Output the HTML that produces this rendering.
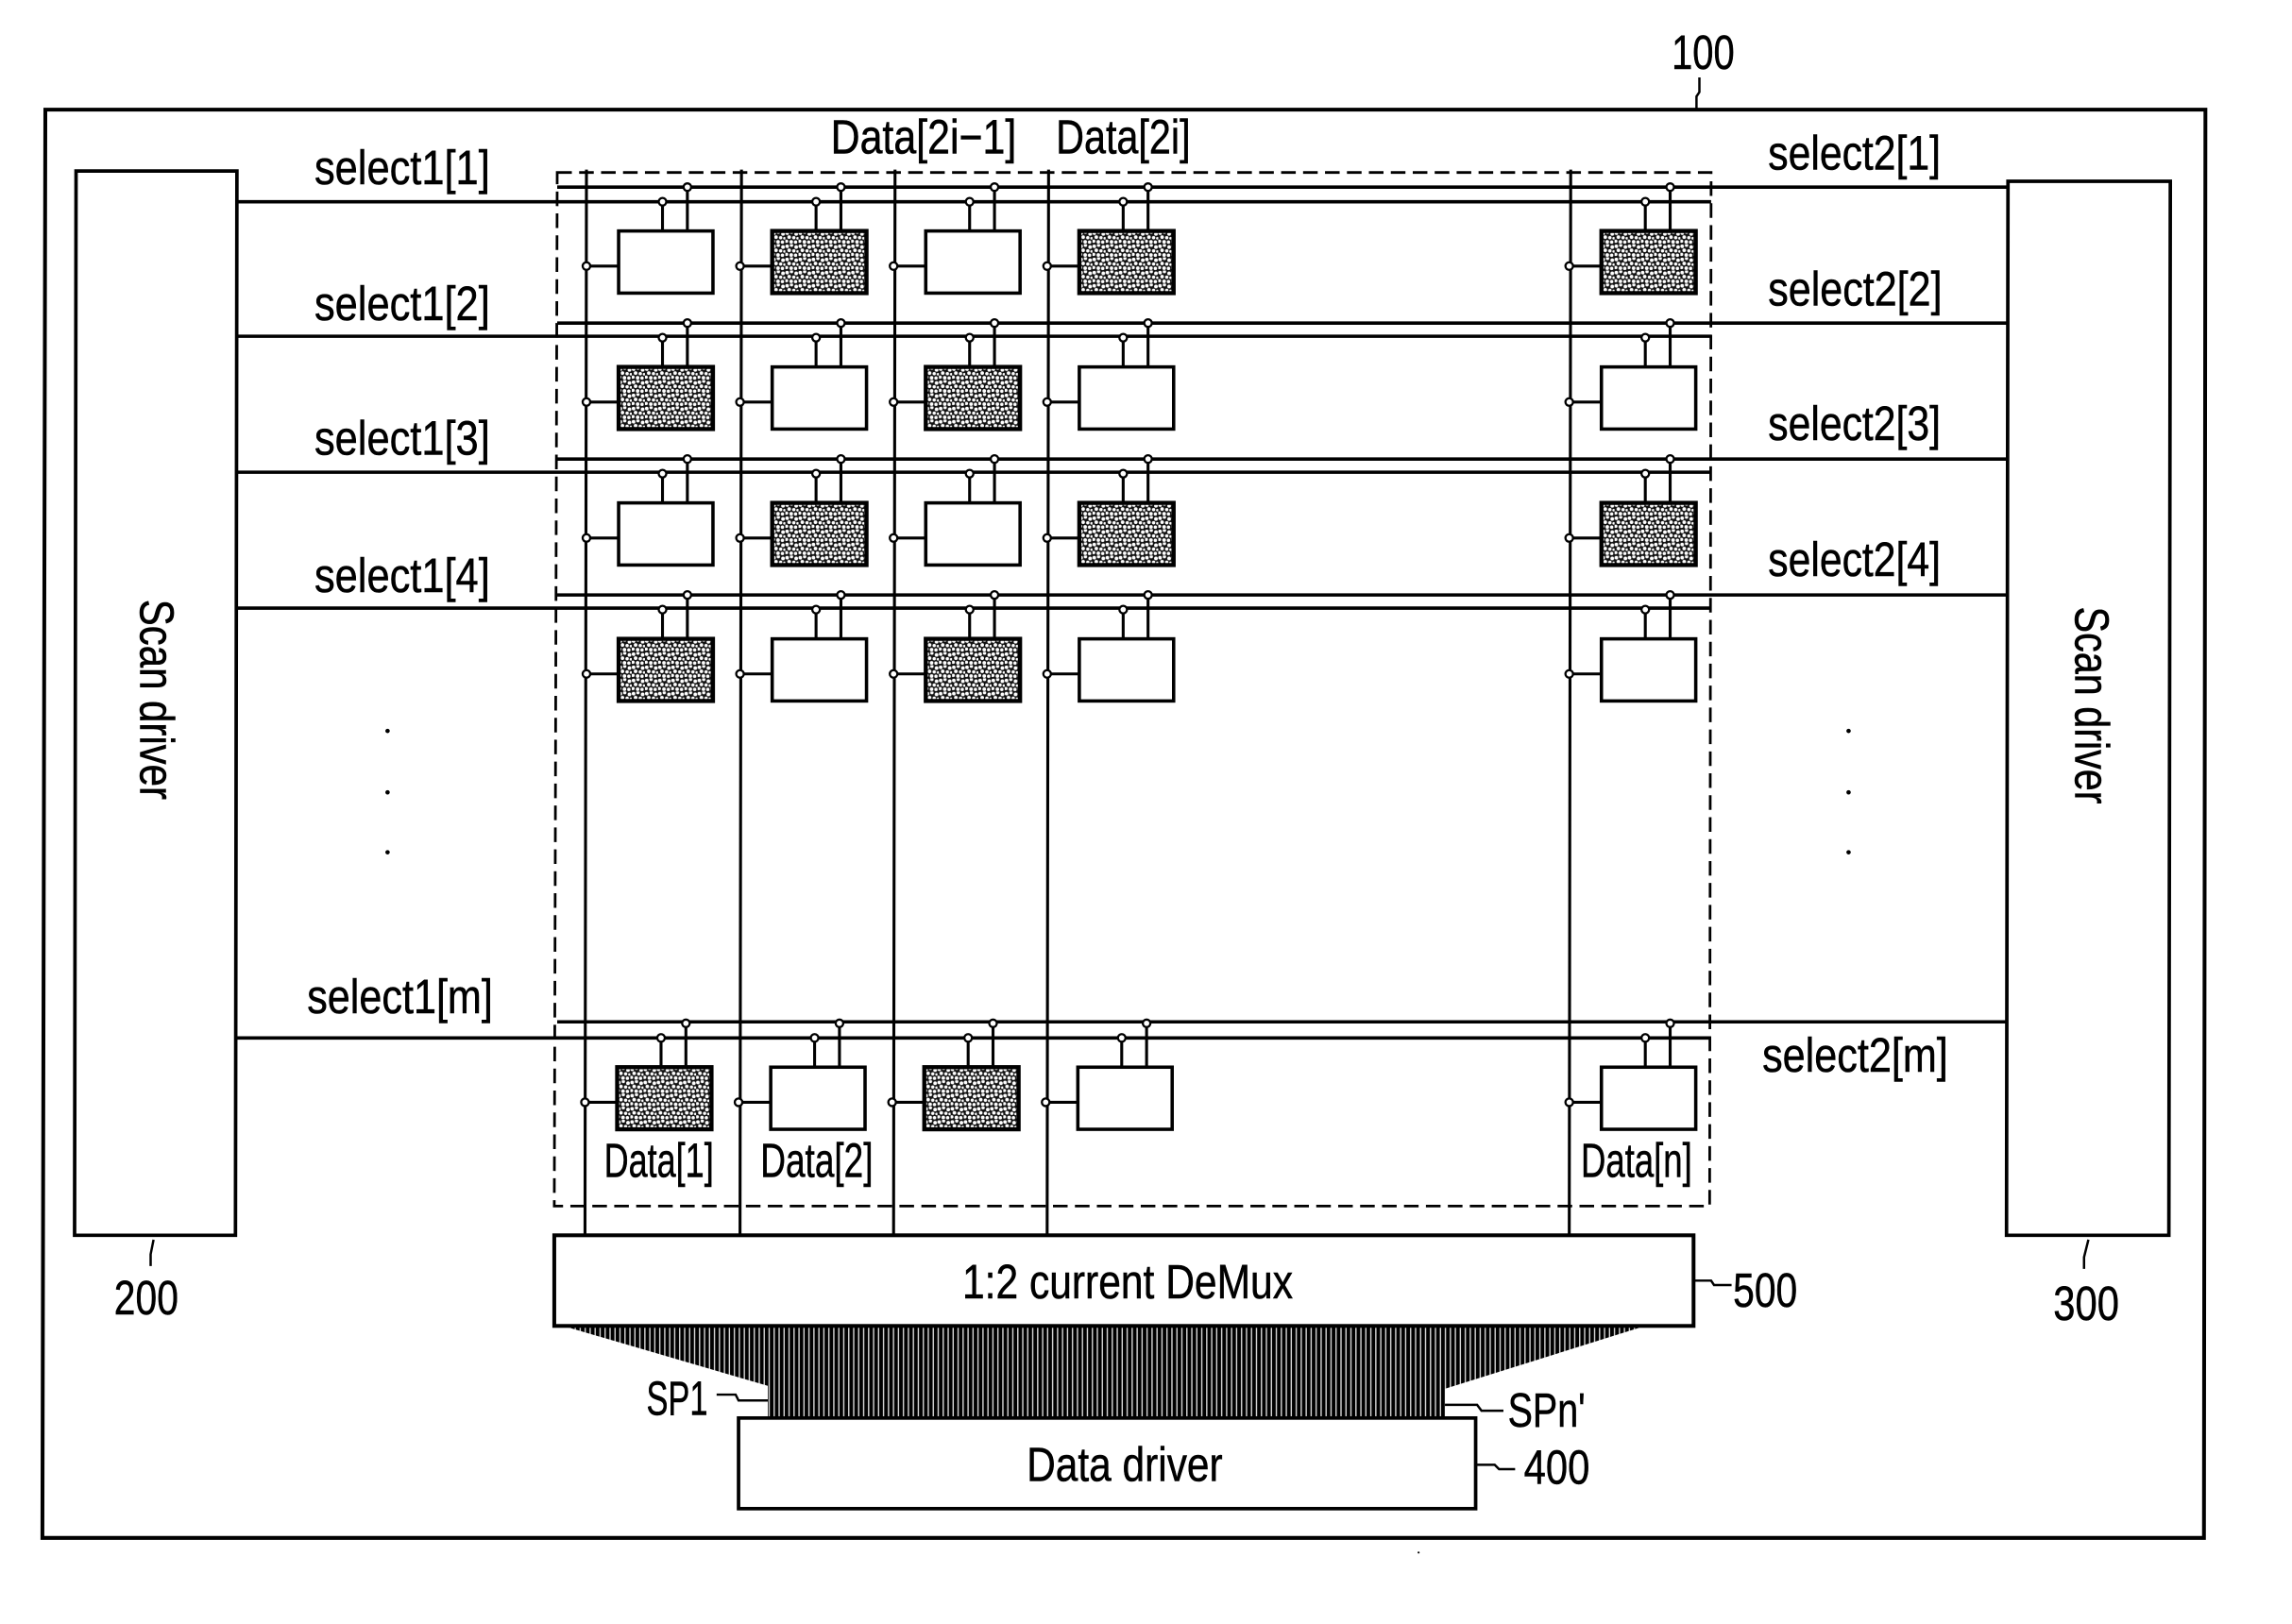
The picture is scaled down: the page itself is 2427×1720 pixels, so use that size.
<!DOCTYPE html>
<html><head><meta charset="utf-8"><style>
html,body{margin:0;padding:0;background:#fff}
svg{display:block}
text{font-family:"Liberation Sans",sans-serif;fill:#000;font-size:33px;stroke:#000;stroke-width:0.35}
.s{stroke:#000;fill:none;stroke-width:2}
</style></head><body>
<svg width="2427" height="1720" viewBox="0 0 1567.2 1110.9" preserveAspectRatio="none" xmlns="http://www.w3.org/2000/svg">
<defs>
<pattern id="sp" width="9" height="9" patternUnits="userSpaceOnUse">
<rect width="9" height="9" fill="#111"/>
<circle cx="1.2" cy="1.5" r="1.25" fill="#fff"/><circle cx="4.2" cy="0.8" r="1.15" fill="#fff"/><circle cx="7.4" cy="2" r="1.25" fill="#fff"/>
<circle cx="2.6" cy="4.2" r="1.25" fill="#fff"/><circle cx="5.8" cy="4.6" r="1.15" fill="#fff"/><circle cx="8.4" cy="5" r="0.9" fill="#fff"/>
<circle cx="0.8" cy="7" r="1.15" fill="#fff"/><circle cx="4" cy="7.4" r="1.25" fill="#fff"/><circle cx="7" cy="7.6" r="1.15" fill="#fff"/>
</pattern>
<pattern id="hatch" width="3.4" height="40" patternUnits="userSpaceOnUse">
<rect width="3.4" height="40" fill="#000"/><rect x="1.9" width="0.9" height="40" fill="#fff" opacity="0.85"/>
</pattern>
<g id="stubs">
<path class="s" d="M30 0V-20M47 0V-30M0 24H-22"/>
<circle cx="30" cy="-20" r="2.6" fill="#fff" stroke="#000" stroke-width="1.5"/>
<circle cx="47" cy="-30" r="2.6" fill="#fff" stroke="#000" stroke-width="1.5"/>
<circle cx="-22" cy="24" r="2.6" fill="#fff" stroke="#000" stroke-width="1.5"/>
</g>
<g id="w"><rect x="0" y="0" width="64.5" height="42.5" fill="#fff" stroke="#000" stroke-width="2.3"/><use href="#stubs"/></g>
<g id="d"><rect x="0" y="0" width="64.5" height="42.5" fill="url(#sp)" stroke="#000" stroke-width="2.8"/><use href="#stubs"/></g>
</defs>

<!-- outer frame -->
<path d="M31 75H1508L1507 1052H29Z" fill="none" stroke="#000" stroke-width="2.6"/>
<!-- drivers -->
<path d="M52 117H162L161 845H51Z" fill="#fff" stroke="#000" stroke-width="2.4"/>
<path d="M1373 124H1484L1483 845H1372Z" fill="#fff" stroke="#000" stroke-width="2.4"/>

<!-- dashed panel -->
<path d="M381 118H1170L1169 825H379Z" fill="none" stroke="#000" stroke-width="1.8" stroke-dasharray="10 5"/>

<!-- data lines -->
<path class="s" d="M401 116L400 846M507 116L506 846M612 116L611 846M717 116L716 846M1074 116L1073 846"/>
<!-- select1 lines -->
<path class="s" style="stroke-width:2.3" d="M162 138H1170M162 230H1170M162 323H1170M162 416H1170M161 710H1170"/>
<!-- select2 lines -->
<path class="s" style="stroke-width:2.3" d="M381 128H1373M381 221H1373M381 314H1373M381 407H1373M381 699H1372"/>

<!-- cells row 1 -->
<use href="#w" x="423" y="158"/><use href="#d" x="528" y="158"/><use href="#w" x="633" y="158"/><use href="#d" x="738" y="158"/><use href="#d" x="1095" y="158"/>
<!-- row 2 -->
<use href="#d" x="423" y="251"/><use href="#w" x="528" y="251"/><use href="#d" x="633" y="251"/><use href="#w" x="738" y="251"/><use href="#w" x="1095" y="251"/>
<!-- row 3 -->
<use href="#w" x="423" y="344"/><use href="#d" x="528" y="344"/><use href="#w" x="633" y="344"/><use href="#d" x="738" y="344"/><use href="#d" x="1095" y="344"/>
<!-- row 4 -->
<use href="#d" x="423" y="437"/><use href="#w" x="528" y="437"/><use href="#d" x="633" y="437"/><use href="#w" x="738" y="437"/><use href="#w" x="1095" y="437"/>
<!-- row m -->
<use href="#d" x="422" y="730"/><use href="#w" x="527" y="730"/><use href="#d" x="632" y="730"/><use href="#w" x="737" y="730"/><use href="#w" x="1095" y="730"/>

<!-- bundle -->
<path d="M385 907H1125L988 950V970H525V948Z" fill="url(#hatch)"/>
<!-- demux and data driver -->
<rect x="379" y="845" width="779" height="62" fill="#fff" stroke="#000" stroke-width="2.6"/>
<rect x="505" y="970" width="504" height="62" fill="#fff" stroke="#000" stroke-width="2.4"/>

<!-- leaders -->
<g fill="none" stroke="#000" stroke-width="1.6">
<path d="M1160 75V66L1162 63V53"/>
<path d="M105 848L103 858V866"/>
<path d="M1428 848L1425 860V868"/>
<path d="M1159 876H1170L1172 879H1184"/>
<path d="M1010 1002H1022L1025 1005H1036"/>
<path d="M490 954H503L505 958H525"/>
<path d="M988 961H1010L1013 965H1028"/>
</g>

<!-- dots -->
<g fill="#000">
<circle cx="265" cy="500" r="1.5"/><circle cx="265" cy="542" r="1.5"/><circle cx="265" cy="583" r="1.5"/>
<circle cx="1264" cy="500" r="1.5"/><circle cx="1264" cy="542" r="1.5"/><circle cx="1264" cy="583" r="1.5"/>
<circle cx="970" cy="1062" r="0.7"/>
</g>

<!-- labels -->
<text x="215" y="126" textLength="120" lengthAdjust="spacingAndGlyphs">select1[1]</text>
<text x="215" y="219" textLength="120" lengthAdjust="spacingAndGlyphs">select1[2]</text>
<text x="215" y="311" textLength="120" lengthAdjust="spacingAndGlyphs">select1[3]</text>
<text x="215" y="405" textLength="120" lengthAdjust="spacingAndGlyphs">select1[4]</text>
<text x="210" y="693" textLength="127" lengthAdjust="spacingAndGlyphs">select1[m]</text>
<text x="1209" y="116" textLength="118" lengthAdjust="spacingAndGlyphs">select2[1]</text>
<text x="1209" y="209" textLength="119" lengthAdjust="spacingAndGlyphs">select2[2]</text>
<text x="1209" y="301" textLength="118" lengthAdjust="spacingAndGlyphs">select2[3]</text>
<text x="1209" y="394" textLength="118" lengthAdjust="spacingAndGlyphs">select2[4]</text>
<text x="1205" y="733" textLength="127" lengthAdjust="spacingAndGlyphs">select2[m]</text>
<text x="568" y="105" textLength="127" lengthAdjust="spacingAndGlyphs">Data[2i−1]</text>
<text x="722" y="105" textLength="92" lengthAdjust="spacingAndGlyphs">Data[2i]</text>
<text x="413" y="805" textLength="75" lengthAdjust="spacingAndGlyphs">Data[1]</text>
<text x="520" y="805" textLength="77" lengthAdjust="spacingAndGlyphs">Data[2]</text>
<text x="1081" y="805" textLength="76" lengthAdjust="spacingAndGlyphs">Data[n]</text>
<text x="658" y="888" textLength="226" lengthAdjust="spacingAndGlyphs">1:2 current DeMux</text>
<text x="702" y="1013" textLength="134" lengthAdjust="spacingAndGlyphs">Data driver</text>
<text x="1143" y="47" textLength="43" lengthAdjust="spacingAndGlyphs">100</text>
<text x="78" y="899" textLength="44" lengthAdjust="spacingAndGlyphs">200</text>
<text x="1404" y="903" textLength="45" lengthAdjust="spacingAndGlyphs">300</text>
<text x="1185" y="894" textLength="44" lengthAdjust="spacingAndGlyphs">500</text>
<text x="1042" y="1015" textLength="45" lengthAdjust="spacingAndGlyphs">400</text>
<text x="442" y="968" textLength="42" lengthAdjust="spacingAndGlyphs">SP1</text>
<text x="1031" y="976" textLength="53" lengthAdjust="spacingAndGlyphs">SPn'</text>
<text transform="translate(96 410) rotate(90)" textLength="137" lengthAdjust="spacingAndGlyphs">Scan driver</text>
<text transform="translate(1419 415) rotate(90)" textLength="135" lengthAdjust="spacingAndGlyphs">Scan driver</text>
</svg>
</body></html>
